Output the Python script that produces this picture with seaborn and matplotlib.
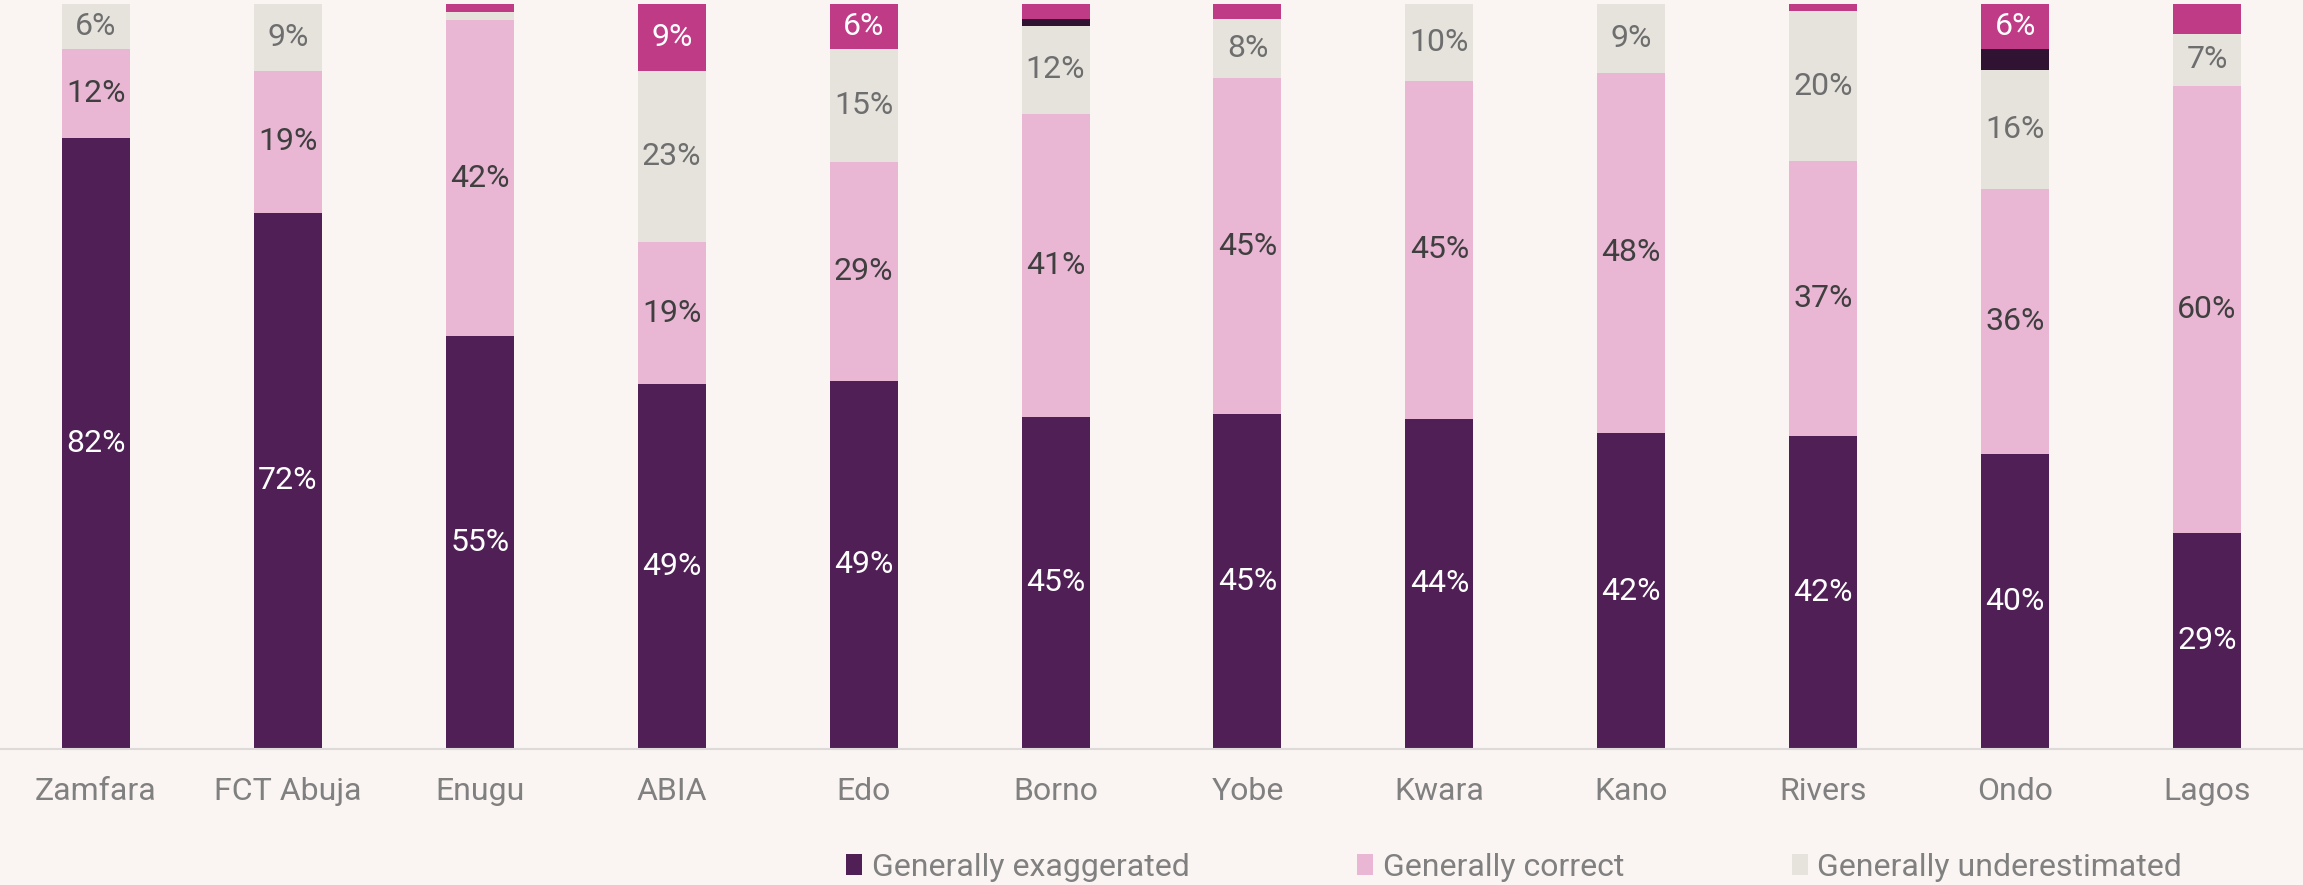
import numpy as np
import pandas as pd
import matplotlib
matplotlib.use("Agg")
import matplotlib.pyplot as plt
import seaborn as sns
from matplotlib.patches import Patch

states = ["Zamfara", "FCT Abuja", "Enugu", "ABIA", "Edo", "Borno",
          "Yobe", "Kwara", "Kano", "Rivers", "Ondo", "Lagos"]
exaggerated = [82, 72, 55.4, 49, 49.4, 44.6, 45, 44.3, 42.4, 42.0, 39.6, 29]
correct = [12, 19, 42.4, 19, 29.4, 40.6, 45, 45.4, 48.4, 36.9, 35.6, 60]
underestimated = [6, 9, 1.1, 23, 15.2, 11.9, 8, 10.3, 9.2, 20.1, 16.0, 7]
dont_know = [0, 0, 0, 0, 0, 0.9, 0, 0, 0, 0, 2.8, 0]
other = [0, 0, 1.1, 9, 6.0, 2.0, 2, 0, 0, 1.0, 6.0, 4]

series_names = ["Generally exaggerated", "Generally correct", "Generally underestimated",
                "Don't know", "Other"]
series_vals = [exaggerated, correct, underestimated, dont_know, other]
colors = ["#4F1F55", "#E9B6D3", "#E6E3DD", "#301232", "#C03B86"]
label_colors = ["#FFFFFF", "#3F3F3F", "#6E6E6E", "#FFFFFF", "#FFFFFF"]

bg = "#FAF5F2"
sns.set_theme(style="white")
plt.rcParams["font.family"] = ["Roboto", "DejaVu Sans"]

fig = plt.figure(figsize=(23.03, 8.85), dpi=100, facecolor=bg)
ax = fig.add_axes([0.0, 0.1537, 1.0, 0.8418])
ax.set_facecolor(bg)

bottom = np.zeros(len(states))
for name, vals, col, lcol in zip(series_names, series_vals, colors, label_colors):
    df = pd.DataFrame({"state": states, "value": vals})
    n_before = len(ax.containers)
    sns.barplot(data=df, x="state", y="value", order=states, color=col,
                width=0.354, bottom=bottom, ax=ax, saturation=1,
                linewidth=0, errorbar=None)
    cont = ax.containers[n_before]
    labels = [f"{round(v):.0f}%" if v >= 5 else "" for v in vals]
    ax.bar_label(cont, labels=labels, label_type="center", color=lcol,
                 fontsize=23, fontweight="normal")
    bottom = bottom + np.array(vals)

ax.set_xlim(-0.5, 11.5)
ax.set_ylim(0, 100)
ax.set_xlabel("")
ax.set_ylabel("")
ax.set_yticks([])
for s in ["top", "left", "right"]:
    ax.spines[s].set_visible(False)
ax.spines["bottom"].set_color("#DEDADA")
ax.spines["bottom"].set_linewidth(1.5)
ax.tick_params(axis="x", length=0, pad=20, labelsize=23, labelcolor="#808080")

handles = [Patch(facecolor=c, edgecolor="none", label=n)
           for n, c in zip(series_names[:3], colors[:3])]
leg = fig.legend(handles=handles, loc="center", bbox_to_anchor=(0.6575, 0.02),
                 ncol=3, frameon=False, fontsize=23, handlelength=0.5,
                 handleheight=0.65, handletextpad=0.3, columnspacing=5.25)
for t in leg.get_texts():
    t.set_color("#808080")

fig.savefig("out.png", dpi=100, facecolor=bg)
